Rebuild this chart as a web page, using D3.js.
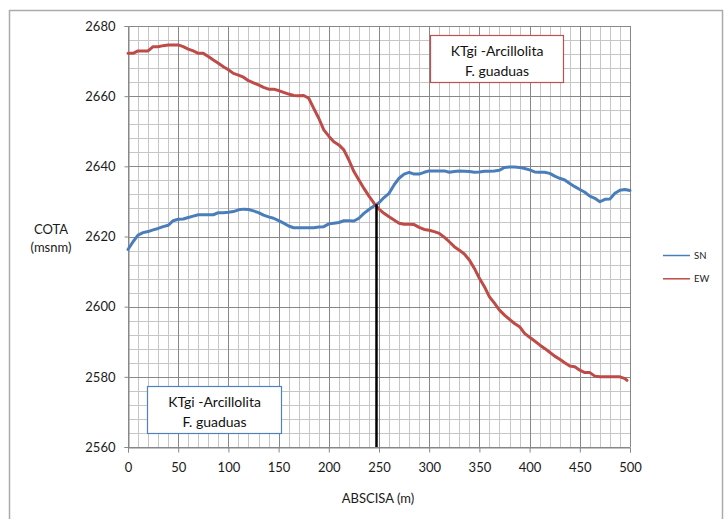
<!DOCTYPE html>
<html>
<head>
<meta charset="utf-8">
<script src="https://cdn.jsdelivr.net/npm/d3@7"></script>
<style>
  html, body { margin: 0; padding: 0; background: #fff; }
  svg { display: block; font-family: Lato, "Open Sans", sans-serif; }
</style>
</head>
<body>
<svg id="chart" width="727" height="519"></svg>
<script>
// ---- data ----
const snX = [0,5,10,15,20,25,30,35,40,45,50,55,60,65,70,75,80,85,90,95,100,105,110,115,120,125,130,135,140,145,150,155,160,165,170,175,180,185,190,195,200,205,210,215,220,225,230,235,240,245,250,255,260,265,270,275,280,285,290,295,300,305,310,315,320,325,330,335,340,345,350,355,360,365,370,375,380,385,390,395,400,405,410,415,420,425,430,435,440,445,450,455,460,465,470,475,480,485,490,495,500];
const snY = [2616.3,2618.5,2620.4,2621.1,2621.4,2621.9,2622.3,2622.8,2623.2,2624.5,2624.9,2625.0,2625.4,2625.8,2626.2,2626.2,2626.2,2626.2,2626.8,2626.8,2626.9,2627.1,2627.6,2627.8,2627.7,2627.3,2626.8,2626.1,2625.6,2625.2,2624.5,2623.8,2623.0,2622.5,2622.5,2622.5,2622.5,2622.5,2622.7,2622.8,2623.6,2623.8,2624.0,2624.5,2624.5,2624.4,2625.2,2626.6,2627.7,2628.7,2629.6,2631.1,2632.3,2634.7,2636.6,2637.8,2638.3,2637.8,2637.8,2638.3,2638.7,2638.7,2638.7,2638.7,2638.3,2638.5,2638.7,2638.6,2638.5,2638.3,2638.4,2638.6,2638.6,2638.7,2638.9,2639.7,2639.8,2639.8,2639.7,2639.4,2639.0,2638.4,2638.3,2638.3,2638.0,2637.2,2636.6,2636.1,2635.1,2634.2,2633.4,2632.6,2631.5,2630.9,2629.9,2630.6,2630.7,2632.3,2633.2,2633.4,2633.1];

const ewX = [0,5,10,15,20,25,30,35,40,45,50,55,60,65,70,75,80,85,90,95,100,105,110,115,120,125,130,135,140,145,150,155,160,165,170,175,180,185,190,195,200,205,210,215,220,225,230,235,240,245,250,255,260,265,270,275,280,285,290,295,300,305,310,315,320,325,330,335,340,345,350,355,360,365,370,375,380,385,390,395,400,405,410,415,420,425,430,435,440,445,450,455,460,465,470,475,480,485,490,495,497];
const ewY = [2672.2,2672.2,2672.9,2672.9,2672.9,2674.1,2674.1,2674.4,2674.6,2674.6,2674.6,2674.1,2673.4,2672.9,2672.2,2672.2,2671.3,2670.3,2669.4,2668.4,2667.5,2666.5,2666.0,2665.4,2664.4,2663.8,2663.2,2662.5,2662.0,2662.0,2661.6,2661.1,2660.6,2660.2,2660.1,2660.2,2659.4,2656.5,2653.7,2650.4,2648.6,2647.0,2646.1,2644.7,2641.8,2638.5,2636.1,2633.7,2631.5,2629.5,2627.8,2626.6,2625.6,2624.7,2623.8,2623.5,2623.5,2623.4,2622.6,2622.0,2621.8,2621.4,2620.9,2619.8,2618.5,2617.1,2616.1,2615.0,2613.3,2610.9,2608.1,2605.7,2602.8,2601.0,2599.0,2597.6,2596.4,2595.2,2594.3,2592.4,2591.3,2590.2,2589.1,2588.1,2587.0,2585.9,2585.0,2584.0,2583.1,2582.9,2581.9,2581.2,2581.2,2580.2,2580.0,2580.0,2580.0,2580.0,2580.0,2579.5,2579.0];

const seriesNames = ["SN", "EW"];
const xTicks = [0,50,100,150,200,250,300,350,400,450,500];
const yTicks = [2560,2580,2600,2620,2640,2660,2680];
const contactX = [247.5];
const contactY = [2629.2];
const boxLines = ["KTgi -Arcillolita", "F. guaduas"];

// ---- layout ----
const svg = d3.select("#chart");
const W = 727, H = 519;
const plot = {left: 128, right: 630, top: 26, bottom: 447};
const x = d3.scaleLinear().domain([0, 500]).range([plot.left, plot.right]);
const y = d3.scaleLinear().domain([2560, 2680]).range([plot.bottom, plot.top]);
const colors = {SN: "#4a7ebb", EW: "#be4b48"};

svg.append("rect").attr("width", W).attr("height", H).attr("fill", "#fff");
// outer chart frame
svg.append("rect").attr("x", 9.5).attr("y", 10.5).attr("width", 713).attr("height", 530)
  .attr("fill", "none").attr("stroke", "#ababab").attr("stroke-width", 1.5);

// grid
const g = svg.append("g");
const xMinor = d3.range(0, 501, 10);
const yMinor = d3.range(2560, 2681, 4);
g.selectAll(".xm").data(xMinor.filter(v => v % 50 !== 0)).enter().append("line")
  .attr("x1", d => Math.round(x(d)) + 0.5).attr("x2", d => Math.round(x(d)) + 0.5)
  .attr("y1", plot.top).attr("y2", plot.bottom)
  .attr("stroke", "#c6c6c6").attr("stroke-width", 1);
g.selectAll(".ym").data(yMinor.filter(v => v % 20 !== 0)).enter().append("line")
  .attr("y1", d => Math.round(y(d)) + 0.5).attr("y2", d => Math.round(y(d)) + 0.5)
  .attr("x1", plot.left).attr("x2", plot.right)
  .attr("stroke", "#c6c6c6").attr("stroke-width", 1);
g.selectAll(".xM").data(xTicks).enter().append("line")
  .attr("x1", d => Math.round(x(d)) + 0.5).attr("x2", d => Math.round(x(d)) + 0.5)
  .attr("y1", plot.top).attr("y2", plot.bottom)
  .attr("stroke", "#888").attr("stroke-width", 1);
g.selectAll(".yM").data(yTicks).enter().append("line")
  .attr("y1", d => Math.round(y(d)) + 0.5).attr("y2", d => Math.round(y(d)) + 0.5)
  .attr("x1", plot.left).attr("x2", plot.right)
  .attr("stroke", "#888").attr("stroke-width", 1);

// axes
const xAxis = d3.axisBottom(x).tickValues(xTicks).tickSize(5).tickPadding(10).tickFormat(d3.format("d"));
const yAxis = d3.axisLeft(y).tickValues(yTicks).tickSize(4).tickPadding(9).tickFormat(d3.format("d"));
const ax = svg.append("g").attr("transform", `translate(0,${Math.round(plot.bottom) + 0.5})`).call(xAxis);
const ay = svg.append("g").attr("transform", `translate(${plot.left + 0.5},0)`).call(yAxis);
[ax, ay].forEach(a => {
  a.select(".domain").attr("stroke", "#888");
  a.selectAll(".tick line").attr("stroke", "#888");
  a.selectAll("text").attr("font-family", "Lato, sans-serif").attr("font-size", 13).attr("fill", "#1a1a1a");
});

// axis titles
svg.append("text").attr("x", 378).attr("y", 503).attr("text-anchor", "middle")
  .attr("font-size", 13).attr("fill", "#1a1a1a").text("ABSCISA (m)");
svg.append("text").attr("x", 51).attr("y", 234).attr("text-anchor", "middle")
  .attr("font-size", 13).attr("fill", "#1a1a1a").text("COTA");
svg.append("text").attr("x", 51).attr("y", 252).attr("text-anchor", "middle")
  .attr("font-size", 13).attr("fill", "#1a1a1a").text("(msnm)");

// lines
const line = d3.line().x(d => x(d[0])).y(d => y(d[1]));
const snData = snX.map((v, i) => [v, snY[i]]);
const ewData = ewX.map((v, i) => [v, ewY[i]]);
svg.append("path").datum(snData).attr("d", line).attr("fill", "none")
  .attr("stroke", colors.SN).attr("stroke-width", 3).attr("stroke-linejoin", "round").attr("stroke-linecap", "round");
svg.append("path").datum(ewData).attr("d", line).attr("fill", "none")
  .attr("stroke", colors.EW).attr("stroke-width", 3).attr("stroke-linejoin", "round").attr("stroke-linecap", "round");

// contact vertical line
svg.append("line").attr("x1", x(contactX[0])).attr("x2", x(contactX[0]))
  .attr("y1", y(contactY[0])).attr("y2", y(2560))
  .attr("stroke", "#000").attr("stroke-width", 2.5);

// annotation boxes
function box(x0, x1, y0, y1, color) {
  const bx = Math.round(x(x0)) + 0.5, by = Math.round(y(y0)) + 0.5;
  const bw = Math.round(x(x1) - x(x0)), bh = Math.round(y(y1) - y(y0));
  const gb = svg.append("g");
  gb.append("rect").attr("x", bx).attr("y", by).attr("width", bw).attr("height", bh)
    .attr("fill", "#fff").attr("stroke", color).attr("stroke-width", 1.2);
  boxLines.forEach((t, i) => {
    gb.append("text").attr("x", bx + bw / 2).attr("y", by + 20 + i * 20)
      .attr("text-anchor", "middle").attr("font-size", 14).attr("fill", "#111").text(t);
  });
}
box(300.8, 433.3, 2677.4, 2664.0, "#c0504d");
box(18.9, 152.4, 2577.4, 2564.0, "#4f81bd");

// legend
const lg = svg.append("g");
seriesNames.forEach((s, i) => {
  const ly = 255.5 + i * 23.3;
  lg.append("line").attr("x1", 663).attr("x2", 690).attr("y1", ly).attr("y2", ly)
    .attr("stroke", colors[s]).attr("stroke-width", 1.5);
  lg.append("text").attr("x", 694).attr("y", ly + 3.5).attr("font-size", 9.5)
    .attr("fill", "#1a1a1a").text(s);
});
</script>
</body>
</html>
